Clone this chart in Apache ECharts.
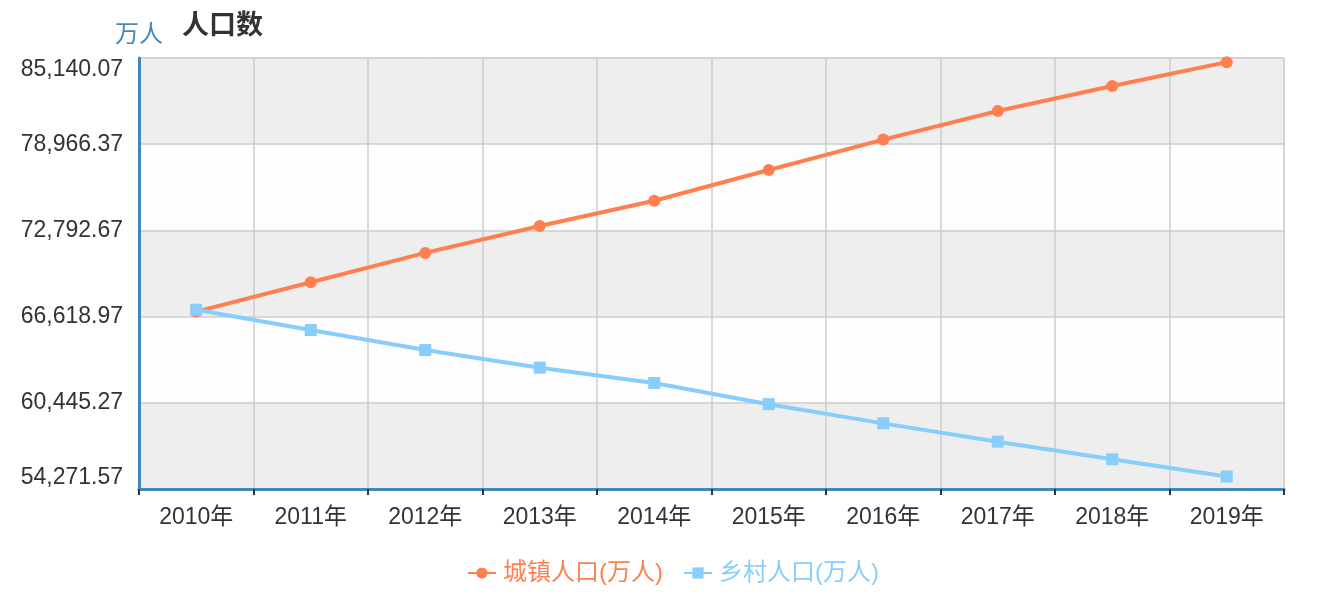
<!DOCTYPE html>
<html><head><meta charset="utf-8">
<script src="https://cdn.jsdelivr.net/npm/echarts@6/dist/echarts.min.js"></script>
<style>html,body{margin:0;padding:0;background:#fff}#c{width:1319px;height:606px}</style>
</head><body><div id="c"></div>
<script>
const categories = ['2010年','2011年','2012年','2013年','2014年','2015年','2016年','2017年','2018年','2019年'];
const urban = [66978, 69079, 71182, 73111, 74916, 77116, 79298, 81347, 83137, 84843];
const rural = [67113, 65656, 64222, 62961, 61866, 60346, 58973, 57661, 56401, 55162];
const yMin = 54271.57;
const yMax = 85140.07;
const yInterval = 6173.7;
const seriesNames = ['城镇人口(万人)', '乡村人口(万人)'];

const chart = echarts.init(document.getElementById('c'));
const fmt = v => Number(v).toLocaleString('en-US', {minimumFractionDigits: 2, maximumFractionDigits: 2});
chart.setOption({
  animation: false,
  textStyle: {fontFamily: 'Liberation Sans, Arial, "Noto Sans CJK SC", sans-serif'},
  title: {text: '人口数', left: 177, top: 8, textStyle: {fontSize: 27, fontWeight: 'bold', color: '#333'}},
  legend: {
    bottom: 16, left: 462, itemWidth: 28, itemHeight: 14, itemGap: 20,
    data: [
      {name: seriesNames[0], textStyle: {color: '#ff7f50'}},
      {name: seriesNames[1], textStyle: {color: '#87cefa'}}
    ],
    textStyle: {fontSize: 24, padding: [0, 0, 0, 2]}
  },
  grid: {left: 139, right: 35, top: 58, bottom: 117, show: true, borderColor: '#ccc', borderWidth: 1, backgroundColor: 'transparent'},
  xAxis: {
    type: 'category', data: categories, boundaryGap: true,
    axisLine: {lineStyle: {color: '#4488bb', width: 3}},
    axisTick: {show: true, length: 6, lineStyle: {color: '#333', width: 2}},
    axisLabel: {fontSize: 23, color: '#333', margin: 17},
    splitLine: {show: true, lineStyle: {color: '#ccc', width: 1.5}}
  },
  yAxis: {
    type: 'value', min: yMin, max: yMax, interval: yInterval,
    name: '万人', nameGap: 11, nameTextStyle: {color: '#4488bb', fontSize: 24},
    axisLine: {show: true, lineStyle: {color: '#4488bb', width: 3}},
    axisTick: {show: false},
    axisLabel: {fontSize: 23, color: '#333', margin: 16, formatter: fmt, verticalAlignMinLabel: 'bottom', verticalAlignMaxLabel: 'top'},
    splitLine: {show: true, lineStyle: {color: '#ccc', width: 1.5}},
    splitArea: {show: true, areaStyle: {color: ['#eeeeee', '#fdfdfd']}}
  },
  series: [
    {name: seriesNames[0], type: 'line', data: urban, symbol: 'circle', symbolSize: 12,
     itemStyle: {color: '#ff7f50'}, lineStyle: {width: 4, color: '#ff7f50'}},
    {name: seriesNames[1], type: 'line', data: rural, symbol: 'rect', symbolSize: 12,
     itemStyle: {color: '#87cefa'}, lineStyle: {width: 4, color: '#87cefa'}}
  ]
});
</script></body></html>
